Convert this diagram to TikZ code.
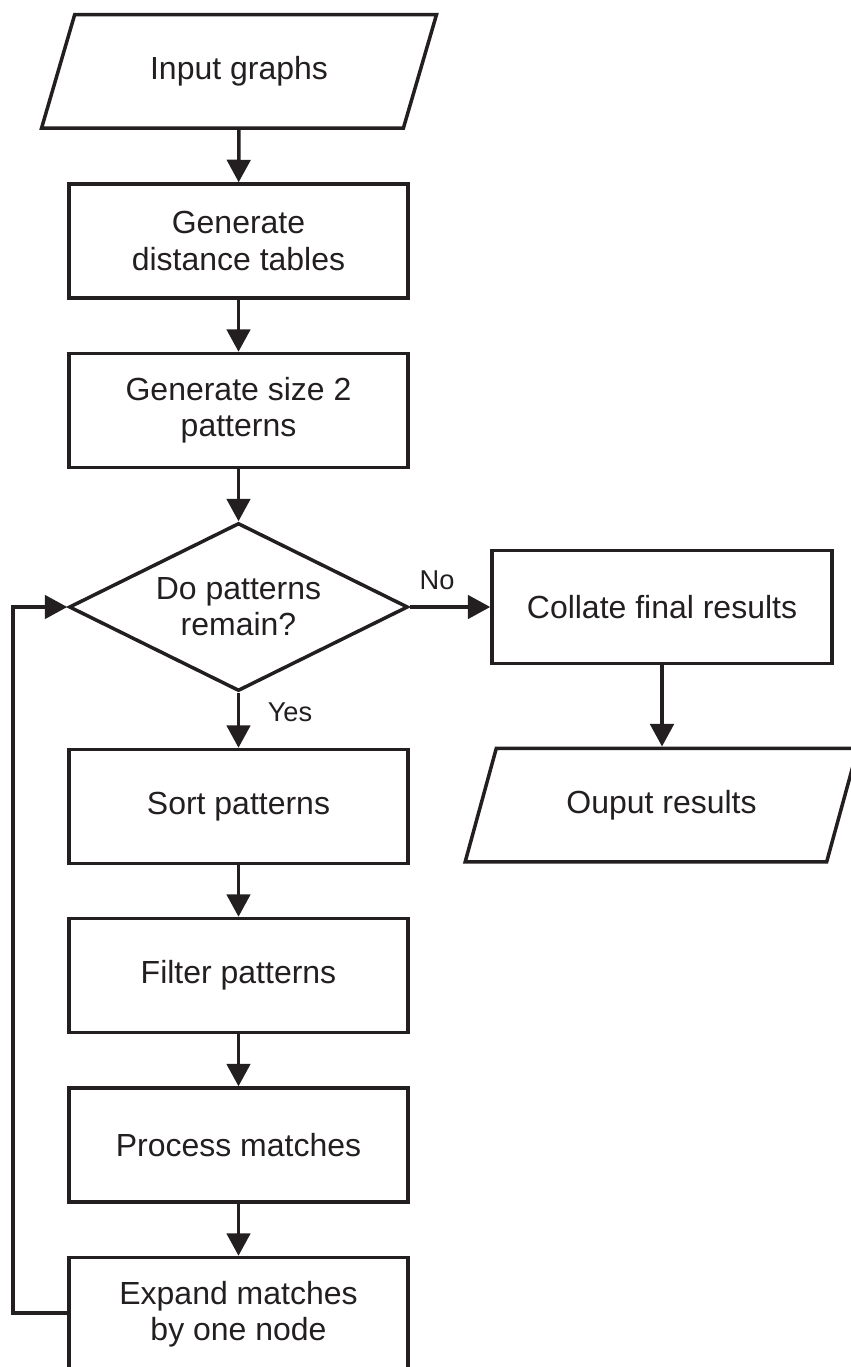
\documentclass[tikz,border=0pt]{standalone}
\usepackage{fontspec}
\setmainfont{Liberation Sans}
\usepackage{tikz}
\usetikzlibrary{shapes.geometric, arrows.meta}
\definecolor{inkblack}{RGB}{35, 31, 32}

\begin{document}
\begin{tikzpicture}[
  line width=0.07cm, draw=inkblack, text=inkblack,
  font=\fontsize{18.2}{20.5}\selectfont,
  procbox/.style={draw=inkblack, rectangle, minimum width=6.78cm, minimum height=2.28cm, align=center, inner sep=2pt},
  iobox/.style={draw=inkblack, trapezium, trapezium stretches=true, trapezium left angle=59, trapezium right angle=121, minimum width=7.9cm, minimum height=2.27cm, align=center, inner sep=0pt},
  decbox/.style={draw=inkblack, diamond, shape aspect=2, minimum width=6.78cm, minimum height=3.36cm, align=center, inner sep=0pt},
  flow/.style={draw=inkblack, -{Triangle[length=0.45cm, width=0.47cm]}},
  answer/.style={font=\fontsize{15.5}{18}\selectfont}
]
  \useasboundingbox (0, 0) rectangle (17, -27.34);

  % Main column
  \node[iobox] (inp) at (4.78, -1.43) {Input graphs};
  \node[procbox] (dist) at (4.77, -4.82) {Generate\\distance tables};
  \node[procbox] (size) at (4.77, -8.21) {Generate size 2\\patterns};
  \node[decbox] (remain) at (4.77, -12.14) {Do patterns\\remain?};
  \node[procbox] (sort) at (4.77, -16.13) {Sort patterns};
  \node[procbox] (filt) at (4.77, -19.51) {Filter patterns};
  \node[procbox] (proc) at (4.77, -22.90) {Process matches};
  \node[procbox] (expand) at (4.77, -26.29) {Expand matches\\by one node};

  % Exit branch
  \node[procbox, minimum width=6.8cm, minimum height=2.26cm] (collate) at (13.24, -12.14) {Collate final results};
  \node[iobox, minimum width=7.86cm] (outp) at (13.23, -16.10) {Ouput results};

  % Branch labels
  \node[answer] (no) at (8.74, -11.60) {No};
  \node[answer] (yes) at (5.80, -14.24) {Yes};

  % Connectors
  \draw[flow] (inp) -- (dist);
  \draw[flow] (dist) -- (size);
  \draw[flow] (size) -- (remain);
  \draw[flow] (remain) -- (sort);
  \draw[flow] (sort) -- (filt);
  \draw[flow] (filt) -- (proc);
  \draw[flow] (proc) -- (expand);
  \draw[flow] (remain) -- (collate);
  \draw[flow] (collate) -- (collate |- outp.north);

  % Loop back
  \coordinate (back) at (0.26, -26.26);
  \draw[flow] (expand.west |- back) -- (back) |- (remain.west);
\end{tikzpicture}
\end{document}
